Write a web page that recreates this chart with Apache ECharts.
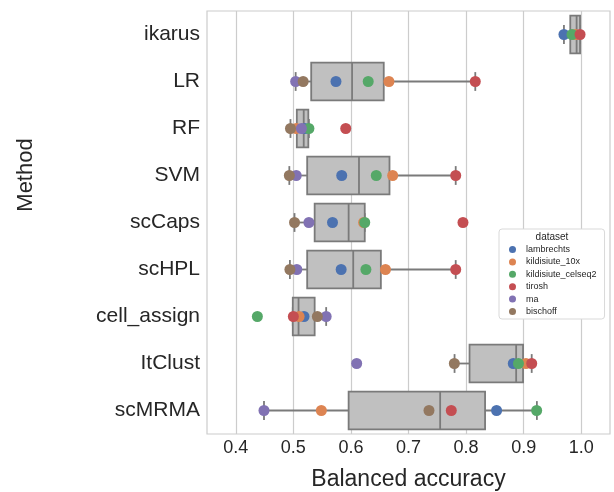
<!DOCTYPE html>
<html>
<head>
<meta charset="utf-8">
<script src="https://cdn.jsdelivr.net/npm/echarts@6/dist/echarts.min.js"></script>
<style>
  html, body { margin: 0; padding: 0; background: #fff; }
  #chart { width: 614px; height: 492px; }
</style>
</head>
<body>
<div id="chart"></div>
<script>
const methods = ["ikarus", "LR", "RF", "SVM", "scCaps", "scHPL", "cell_assign", "ItClust", "scMRMA"]

// box stats per method (whisker low, q1, median, q3, whisker high)
const whiskerLow = [0.970, 0.504, 0.495, 0.493, 0.502, 0.494, 0.499, 0.780, 0.449]
const q1 = [0.981, 0.531, 0.506, 0.524, 0.537, 0.524, 0.499, 0.806, 0.596]
const median = [0.992, 0.602, 0.518, 0.614, 0.596, 0.604, 0.509, 0.887, 0.755]
const q3 = [0.998, 0.657, 0.526, 0.667, 0.624, 0.652, 0.537, 0.899, 0.833]
const whiskerHigh = [0.998, 0.816, 0.527, 0.782, 0.624, 0.782, 0.557, 0.914, 0.923]

// per-dataset accuracy, same order as methods
const lambrechts = [0.970, 0.574, 0.520, 0.584, 0.568, 0.583, 0.5185, 0.882, 0.853]
const kildisiute10x = [0.990, 0.666, 0.505, 0.6725, 0.622, 0.660, 0.510, 0.904, 0.5486]
const kildisiuteCelseq2 = [0.984, 0.630, 0.527, 0.644, 0.624, 0.626, 0.4375, 0.891, 0.9226]
const tirosh = [0.998, 0.816, 0.591, 0.782, 0.7946, 0.782, 0.500, 0.914, 0.7743]
const ma = [null, 0.504, 0.514, 0.505, 0.527, 0.506, 0.557, 0.610, 0.449]
const bischoff = [null, 0.517, 0.495, 0.493, 0.502, 0.494, 0.5417, 0.7796, 0.7356]

const datasets = [
  { name: "lambrechts", values: lambrechts, color: "#4c72b0" },
  { name: "kildisiute_10x", values: kildisiute10x, color: "#dd8452" },
  { name: "kildisiute_celseq2", values: kildisiuteCelseq2, color: "#55a868" },
  { name: "tirosh", values: tirosh, color: "#c44e52" },
  { name: "ma", values: ma, color: "#8172b3" },
  { name: "bischoff", values: bischoff, color: "#937860" },
]

const xTicks = [0.4, 0.5, 0.6, 0.7, 0.8, 0.9, 1.0]

const font = "Liberation Sans, Arial, Helvetica, sans-serif"
const boxFill = "#c0c0c0"
const boxEdge = "#7a7a7a"

const chart = echarts.init(document.getElementById("chart"))

const boxData = methods.map((m, i) => [i, whiskerLow[i], q1[i], median[i], q3[i], whiskerHigh[i]])

const renderBox = (params, api) => {
  const idx = api.value(0)
  const band = api.size([0, 1])[1]
  const h = band * 0.8
  const cap = band * 0.2
  const pLo = api.coord([api.value(1), idx])
  const pQ1 = api.coord([api.value(2), idx])
  const pMed = api.coord([api.value(3), idx])
  const pQ3 = api.coord([api.value(4), idx])
  const pHi = api.coord([api.value(5), idx])
  const cy = pMed[1]
  const lineStyle = { stroke: boxEdge, lineWidth: 1.8, fill: null }
  return {
    type: "group",
    children: [
      { type: "line", shape: { x1: pLo[0], y1: cy, x2: pQ1[0], y2: cy }, style: lineStyle },
      { type: "line", shape: { x1: pQ3[0], y1: cy, x2: pHi[0], y2: cy }, style: lineStyle },
      { type: "line", shape: { x1: pLo[0], y1: cy - cap, x2: pLo[0], y2: cy + cap }, style: lineStyle },
      { type: "line", shape: { x1: pHi[0], y1: cy - cap, x2: pHi[0], y2: cy + cap }, style: lineStyle },
      {
        type: "rect",
        shape: { x: pQ1[0], y: cy - h / 2, width: pQ3[0] - pQ1[0], height: h },
        style: { fill: boxFill, stroke: boxEdge, lineWidth: 1.8 },
      },
      { type: "line", shape: { x1: pMed[0], y1: cy - h / 2, x2: pMed[0], y2: cy + h / 2 }, style: lineStyle },
    ],
  }
}

const scatterSeries = datasets.map((d) => ({
  name: d.name,
  type: "scatter",
  symbol: "circle",
  symbolSize: 11,
  z: 3,
  itemStyle: { color: d.color, opacity: 1 },
  data: d.values.map((v, i) => (v === null ? null : [v, methods[i]])).filter((p) => p !== null),
}))

chart.setOption({
  animation: false,
  grid: {
    left: 207,
    top: 11,
    right: 4,
    bottom: 58,
    outerBoundsMode: "none",
    containLabel: false,
    show: true,
    borderColor: "#cccccc",
    borderWidth: 1.2,
  },
  xAxis: {
    type: "value",
    min: 0.35,
    max: 1.05,
    interval: 0.05,
    name: "Balanced accuracy",
    nameLocation: "middle",
    nameGap: 34,
    nameTextStyle: { fontFamily: font, fontSize: 23, color: "#262626" },
    axisLine: { show: false },
    axisTick: { show: false },
    splitLine: { show: false },
    axisLabel: {
      fontFamily: font,
      fontSize: 18,
      color: "#262626",
      margin: 5,
      formatter: (v) => (Math.round(v * 100) % 10 === 0 ? v.toFixed(1) : ""),
    },
  },
  yAxis: {
    type: "category",
    data: methods,
    inverse: true,
    axisLine: { show: false },
    axisTick: { show: false },
    splitLine: { show: false },
    axisLabel: { fontFamily: font, fontSize: 21, color: "#262626", margin: 7 },
  },
  legend: {
    data: datasets.map((d) => d.name),
    orient: "vertical",
    left: 499,
    top: 229,
    padding: [16, 8, 3, 10],
    itemWidth: 17,
    itemHeight: 7,
    itemGap: 3.4,
    icon: "circle",
    backgroundColor: "#ffffff",
    borderColor: "#d9d9d9",
    borderWidth: 1,
    borderRadius: 3,
    textStyle: { fontFamily: font, fontSize: 9, color: "#262626", lineHeight: 9 },
  },
  graphic: [
    {
      type: "text",
      x: 552,
      y: 237,
      z: 100,
      style: {
        text: "dataset",
        font: "10px " + font,
        fill: "#262626",
        textAlign: "center",
        textVerticalAlign: "middle",
      },
    },
    {
      type: "text",
      x: 26,
      y: 175,
      rotation: Math.PI / 2,
      style: {
        text: "Method",
        font: "22px " + font,
        fill: "#262626",
        textAlign: "center",
        textVerticalAlign: "middle",
      },
    },
  ],
  series: [
    {
      type: "scatter",
      data: [],
      z: 1,
      silent: true,
      markLine: {
        symbol: "none",
        silent: true,
        z: 1,
        label: { show: false },
        lineStyle: { color: "#cccccc", width: 1.2, type: "solid" },
        data: xTicks.map((t) => ({ xAxis: t })),
      },
    },
    {
      type: "custom",
      z: 2,
      renderItem: renderBox,
      encode: { x: [1, 2, 3, 4, 5], y: 0 },
      data: boxData,
    },
    ...scatterSeries,
  ],
})
</script>
</body>
</html>
